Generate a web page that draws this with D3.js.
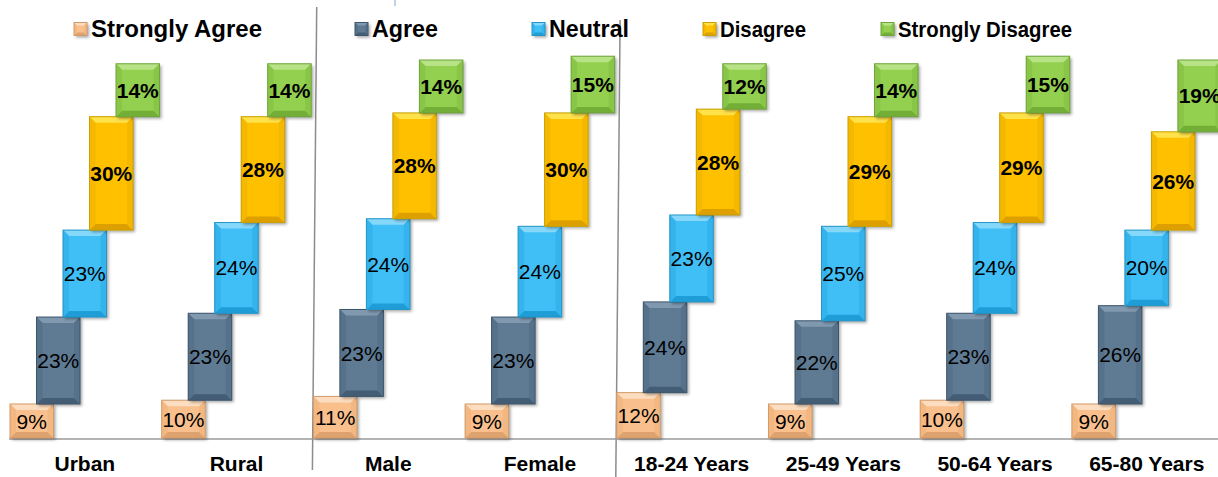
<!DOCTYPE html>
<html>
<head>
<meta charset="utf-8">
<script src="https://cdn.jsdelivr.net/npm/d3@7"></script>
<style>
  html, body { margin: 0; padding: 0; background: #fff; }
  svg { display: block; font-family: "Liberation Sans", Arial, sans-serif; }
</style>
</head>
<body>
<svg id="chart" width="1218" height="477"></svg>
<script>
// Survey response shares (%) by group
const categories = ["Urban", "Rural", "Male", "Female", "18-24 Years", "25-49 Years", "50-64 Years", "65-80 Years"];
const seriesNames = ["Strongly Agree", "Agree", "Neutral", "Disagree", "Strongly Disagree"];
const stronglyAgree    = [9, 10, 11, 9, 12, 9, 10, 9];
const agree            = [23, 23, 23, 23, 24, 22, 23, 26];
const neutral          = [23, 24, 24, 24, 23, 25, 24, 20];
const disagree         = [30, 28, 28, 30, 28, 29, 29, 26];
const stronglyDisagree = [14, 14, 14, 15, 12, 14, 15, 19];

const seriesValues = [stronglyAgree, agree, neutral, disagree, stronglyDisagree];

// fill, light bevel, dark bevel, side bevel, outline
const palette = [
  { face: "#F9C08E", light: "#FCDDBF", dark: "#DDA26E", side: "#F3B781", line: "#D29B6A" },
  { face: "#5E7A93", light: "#8099AF", dark: "#435D75", side: "#56718A", line: "#3E566D" },
  { face: "#3FBEF6", light: "#86D8FB", dark: "#1E9DD6", side: "#35B3EC", line: "#2595C8" },
  { face: "#FFC000", light: "#FFE14A", dark: "#DDA000", side: "#F5B800", line: "#C9A000" },
  { face: "#93D050", light: "#B7E386", dark: "#73AE37", side: "#89C647", line: "#6FA33D" }
];
const boldLabel = [false, false, false, true, true];

const svg = d3.select("#chart");
const W = 1218, H = 477;

const defs = svg.append("defs");
const shadow = defs.append("filter").attr("id", "shadow")
  .attr("x", "-20%").attr("y", "-20%").attr("width", "150%").attr("height", "150%");
shadow.append("feDropShadow")
  .attr("dx", 2).attr("dy", 2).attr("stdDeviation", 1.6)
  .attr("flood-color", "#000").attr("flood-opacity", 0.35);

// Scales
const x = d3.scaleBand().domain(categories).range([9, 9 + 8 * 151.7]).paddingInner(0).paddingOuter(0);
const xStep = d3.scaleLinear().domain([0, seriesNames.length - 1]).range([1, 107]);
const barW = 43.5;
const y = d3.scaleLinear().domain([0, 100]).range([438, 60]);

// Separators between the area / gender / age groups
const sepColor = "#8C8C8C";
[["Male", 7, 470], ["18-24 Years", 20, 477]].forEach(([cat, top, bottom]) => {
  const xb = x(cat);
  svg.append("line")
    .attr("x1", xb + 4.3).attr("y1", top)
    .attr("x2", xb).attr("y2", bottom)
    .attr("stroke", sepColor).attr("stroke-width", 1.5);
});
svg.append("line")
  .attr("x1", 395).attr("y1", 0).attr("x2", 395).attr("y2", 6)
  .attr("stroke", "#A9C4DC").attr("stroke-width", 1.5);

// Baseline axis
svg.append("line")
  .attr("x1", x.range()[0]).attr("x2", W)
  .attr("y1", y(0) + 1).attr("y2", y(0) + 1)
  .attr("stroke", "#9A9A9A").attr("stroke-width", 1.5);

// Bevelled block
function bevelBlock(g, bx, by, bw, bh, c, bev) {
  const b = Math.min(bev, bh / 2, bw / 2);
  const grp = g.append("g");
  grp.append("rect").attr("x", bx).attr("y", by).attr("width", bw).attr("height", bh)
    .attr("fill", c.face).attr("filter", "url(#shadow)");
  const poly = (pts, fill) => grp.append("polygon")
    .attr("points", pts.map(p => p.join(",")).join(" ")).attr("fill", fill);
  poly([[bx, by], [bx + bw, by], [bx + bw - b, by + b], [bx + b, by + b]], c.light);
  poly([[bx, by + bh], [bx + bw, by + bh], [bx + bw - b, by + bh - b], [bx + b, by + bh - b]], c.dark);
  poly([[bx, by], [bx + b, by + b], [bx + b, by + bh - b], [bx, by + bh]], c.side);
  poly([[bx + bw, by], [bx + bw - b, by + b], [bx + bw - b, by + bh - b], [bx + bw, by + bh]], c.side);
  grp.append("rect").attr("x", bx).attr("y", by).attr("width", bw).attr("height", bh)
    .attr("fill", "none").attr("stroke", c.line).attr("stroke-width", 1);
  return grp;
}

// Stepped stacked blocks
const plot = svg.append("g");
categories.forEach((cat, ci) => {
  let cum = 0;
  seriesValues.forEach((vals, si) => {
    const v = vals[ci];
    const y0 = cum, y1 = cum + v;
    cum = y1;
    const bx = x(cat) + xStep(si);
    const top = y(y1), bh = y(y0) - y(y1);
    bevelBlock(plot, bx, top, barW, bh, palette[si], 6);
    plot.append("text")
      .attr("x", bx + barW / 2)
      .attr("y", top + bh / 2)
      .attr("dy", "0.36em")
      .attr("text-anchor", "middle")
      .attr("font-size", 21)
      .attr("font-weight", boldLabel[si] ? "bold" : "normal")
      .attr("fill", "#000")
      .text(v + "%");
  });
});

// Category labels
svg.append("g").selectAll("text").data(categories).join("text")
  .attr("x", d => x(d) + x.bandwidth() / 2)
  .attr("y", 471)
  .attr("text-anchor", "middle")
  .attr("font-size", 21)
  .attr("font-weight", "bold")
  .attr("fill", "#000")
  .text(d => d);

// Legend
const legendX = [74, 355, 532, 703, 881];
const legendFont = [23.5, 23, 23, 22.5, 22.5];
const legendTextW = [171, 66, 80, 86, 174];
const legend = svg.append("g");
seriesNames.forEach((name, i) => {
  bevelBlock(legend, legendX[i], 22.5, 13, 13, palette[i], 3);
  legend.append("text")
    .attr("x", legendX[i] + 17)
    .attr("y", 37)
    .attr("font-size", legendFont[i])
    .attr("font-weight", "bold")
    .attr("fill", "#000")
    .attr("textLength", legendTextW[i])
    .attr("lengthAdjust", "spacingAndGlyphs")
    .text(name);
});
</script>
</body>
</html>
